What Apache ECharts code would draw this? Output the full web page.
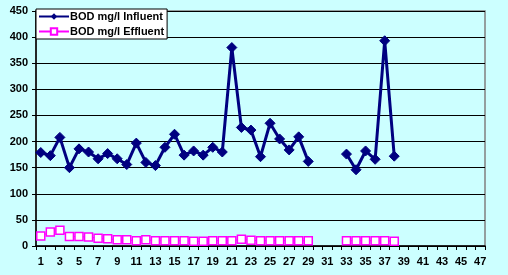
<!DOCTYPE html>
<html><head><meta charset="utf-8">
<script src="https://cdn.jsdelivr.net/npm/echarts@6/dist/echarts.min.js"></script>
<style>html,body{margin:0;padding:0;background:#ccffff;}#c{width:508px;height:275px;}</style>
</head><body><div id="c"></div>
<script>
const categories = [];
for (let i = 1; i <= 47; i++) categories.push(String(i));
const influent = [179,173,208,150,186,180,167,177,167,156,197,160,154,189,214,174,182,174,189,180,380,227,222,171,235,205,184,209,162,null,null,null,176,146,182,166,393,172];
const effluent = [19,27,30,18,18,17,15,14,12,12,10,12,10,10,10,10,9,9,10,10,10,13,11,10,10,10,10,10,10,null,null,null,10,10,10,10,10,9];
const yTicks = {min:0, max:450, interval:50};

const chart = echarts.init(document.getElementById('c'), null, {renderer:'canvas'});
const font = {fontFamily:'Liberation Sans, Arial', fontWeight:'bold', fontSize:11, color:'#000'};
chart.setOption({
  backgroundColor:'#ccffff',
  animation:false,
  grid:{left:36, right:23, top:11, bottom:29, show:true, borderColor:'#808080', borderWidth:1.5, backgroundColor:'#ccffff'},
  legend:{
    left:36, top:9, orient:'vertical', backgroundColor:'#fff', borderColor:'#000', borderWidth:1,
    padding:[2,3,2,2], itemWidth:30, itemHeight:8, itemGap:4,
    textStyle:Object.assign({}, font, {padding:[0,0,0,-4]})
  },
  xAxis:{
    type:'category', data:categories, boundaryGap:true,
    axisLine:{lineStyle:{color:'#000', width:1.5}},
    axisTick:{show:true, interval:0, length:4, inside:false, alignWithLabel:false, lineStyle:{color:'#000'}},
    axisLabel:Object.assign({}, font, {interval:1, margin:10})
  },
  yAxis:{
    type:'value', min:yTicks.min, max:yTicks.max, interval:yTicks.interval,
    axisLine:{show:true, lineStyle:{color:'#000', width:1.5}},
    axisTick:{show:true, length:4, lineStyle:{color:'#000'}},
    splitLine:{lineStyle:{color:'#000', width:1}},
    axisLabel:Object.assign({}, font, {margin:8})
  },
  series:[
    {name:'BOD mg/l Influent', type:'line', data:influent, symbol:'diamond', symbolSize:10, showAllSymbol:true,
     lineStyle:{color:'#000080', width:3}, itemStyle:{color:'#000080', borderColor:'#000080'}, connectNulls:false},
    {name:'BOD mg/l Effluent', type:'line', data:effluent, symbol:'rect', symbolSize:8, showAllSymbol:true,
     lineStyle:{color:'#ff00ff', width:1}, itemStyle:{color:'#fff', borderColor:'#ff00ff', borderWidth:1.5}, connectNulls:false}
  ]
});
</script></body></html>
